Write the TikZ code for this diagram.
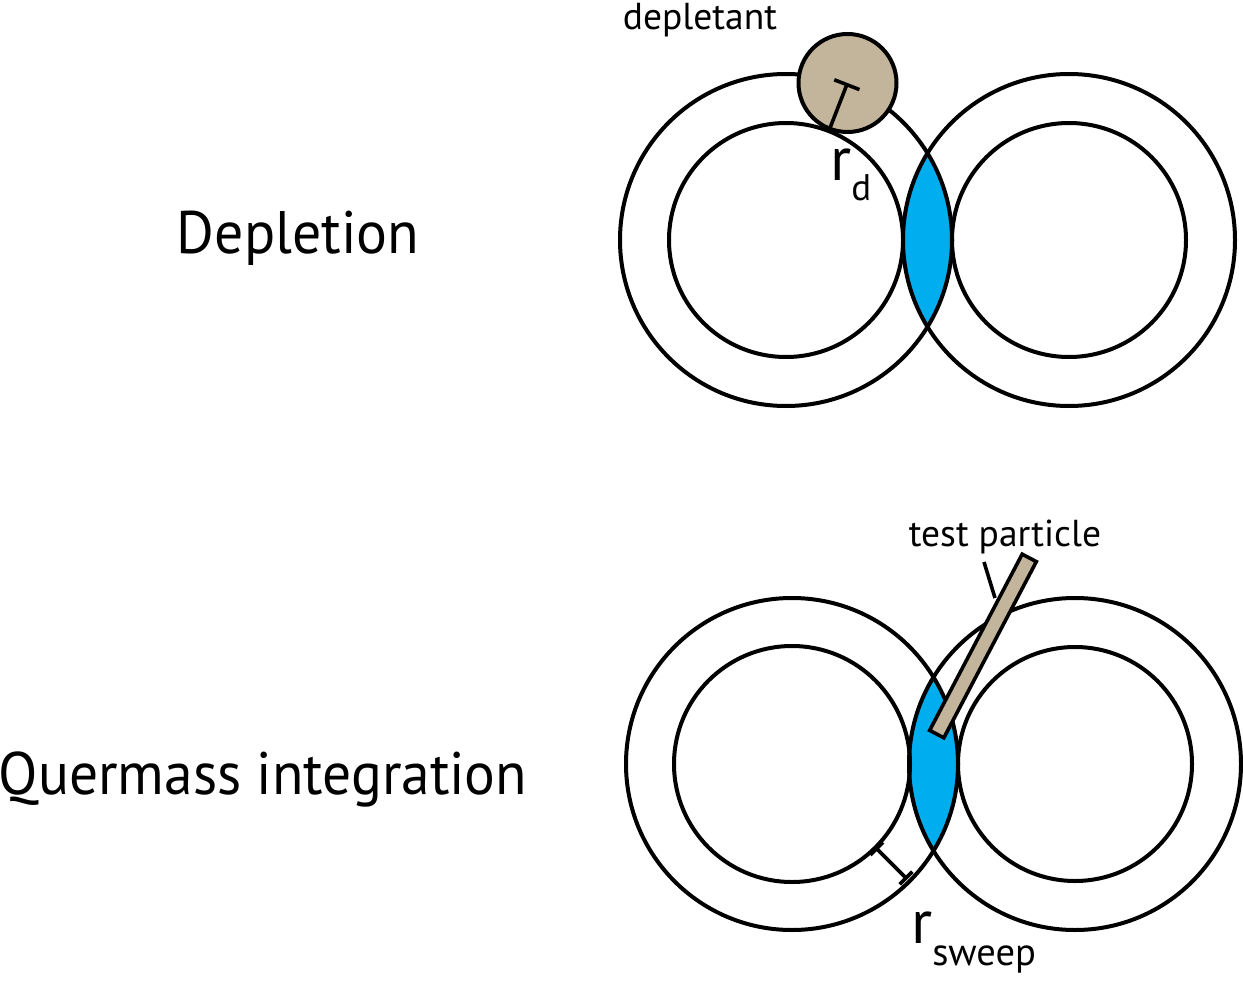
\documentclass[tikz,border=0pt]{standalone}
\usepackage{fontspec}
\setmainfont{PT Sans}
\usetikzlibrary{arrows.meta,calc}
\definecolor{lensblue}{HTML}{00AEEF}
\definecolor{tan}{HTML}{C3B59B}
\tikzset{
  ring/.style={draw=black, line width=4pt},
  title/.style={font=\fontsize{60}{60}\selectfont, inner sep=0pt},
  small/.style={font=\fontsize{37.5}{37.5}\selectfont, inner sep=0pt},
  marker/.style={draw=black, line width=3.6pt},
}
\begin{document}
\begin{tikzpicture}[x=1pt,y=-1pt]
\useasboundingbox (0,0) rectangle (1243,982);
% ---------- top: Depletion ----------
\coordinate (TL) at (786,240);
\coordinate (TR) at (1069,240);
\begin{scope}
  \clip (TL) circle[radius=166pt];
  \fill[lensblue] (TR) circle[radius=166pt];
\end{scope}
\draw[ring] (TL) circle[radius=166pt];
\draw[ring] (TL) circle[radius=117pt];
\draw[ring] (TR) circle[radius=166pt];
\draw[ring] (TR) circle[radius=117pt];
\node[draw=black, line width=4pt, fill=tan, circle, minimum size=98pt, inner sep=0pt] (dep) at (847.5,83) {};
\coordinate (rdin) at (830,128);
\draw[marker, -{Bar[width=27pt,line width=3.6pt]}] (rdin) -- (dep.center);
\node[small] (deplabel) at (700,20) {depletant};
\node[inner sep=0pt, anchor=base west] (rd) at (830,180) {\fontsize{62}{62}\selectfont r\raisebox{-20pt}{\fontsize{37}{37}\selectfont d}};
\node[title] (depletion) at (298,238) {\scalebox{0.963}[1]{Depletion}};
% ---------- bottom: Quermass integration ----------
\coordinate (BL) at (792,764);
\coordinate (BR) at (1075,764);
\begin{scope}
  \clip (BL) circle[radius=166pt];
  \fill[lensblue] (BR) circle[radius=166pt];
\end{scope}
\draw[ring] (BL) circle[radius=166pt];
\draw[ring] (BL) circle[radius=118pt];
\draw[ring] (BR) circle[radius=166pt];
\draw[ring] (BR) circle[radius=117pt];
\node[draw=black, line width=3.6pt, fill=tan, minimum width=199pt, minimum height=16pt, inner sep=0pt, rotate=62.3] (rod) at (983,646) {};
\node[small] (testlabel) at (1005,537) {test particle};
\coordinate (tl1) at (984,562);
\coordinate (tl2) at (995,598);
\draw[marker] (tl1) -- (tl2);
\coordinate (sw1) at ($(BL)+(-45:118pt)$);
\coordinate (sw2) at ($(BL)+(-45:163pt)$);
\draw[marker, {Bar[width=18pt,line width=3.6pt]}-{Bar[width=18pt,line width=3.6pt]}] (sw1) -- (sw2);
\node[inner sep=0pt, anchor=base west] (rsweep) at (911,943) {\fontsize{62}{62}\selectfont r\raisebox{-22pt}{\fontsize{38.5}{38.5}\selectfont sweep}};
\node[title] (quermass) at (263,779) {\scalebox{0.958}[1]{Quermass integration}};
\end{tikzpicture}
\end{document}
